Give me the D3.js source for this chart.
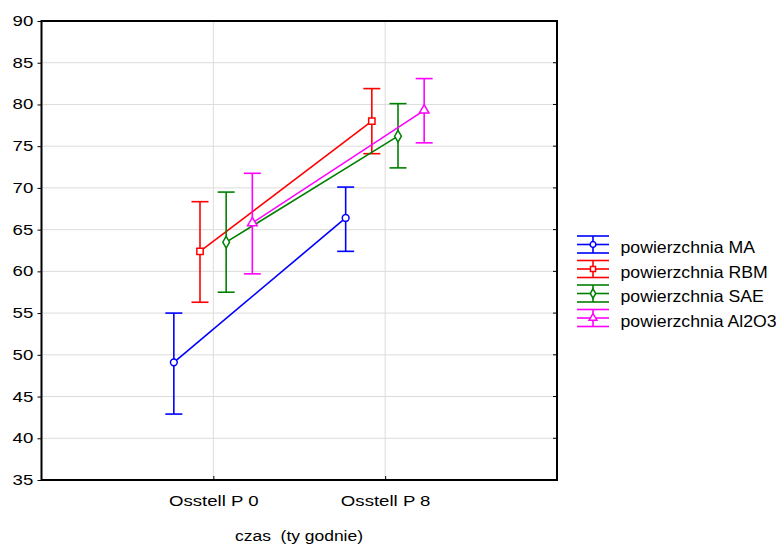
<!DOCTYPE html>
<html><head><meta charset="utf-8">
<script src="https://cdn.jsdelivr.net/npm/d3@7"></script>
<style>html,body{margin:0;padding:0;background:#fff;}svg{display:block;font-family:"Liberation Sans",Arial,sans-serif;}</style>
</head><body>
<script>
const categories = ["Osstell P 0", "Osstell P 8"];
const seriesNames = ["powierzchnia MA", "powierzchnia RBM", "powierzchnia SAE", "powierzchnia Al2O3"];
const seriesColors = ["#0000ff", "#ff0000", "#008000", "#ff00ff"];
const seriesSymbols = ["circle", "square", "diamond", "triangle"];
const meanMA = [49.1, 66.4];
const meanRBM = [62.4, 78.0];
const meanSAE = [63.5, 76.2];
const meanAl2O3 = [65.8, 79.3];
const lowMA = [42.9, 62.4], highMA = [55.0, 70.1];
const lowRBM = [56.3, 74.1], highRBM = [68.35, 81.9];
const lowSAE = [57.5, 72.4], highSAE = [69.5, 80.1];
const lowAl2O3 = [59.7, 75.4], highAl2O3 = [71.75, 83.1];
const yTicks = [35, 40, 45, 50, 55, 60, 65, 70, 75, 80, 85, 90];
const xTitle = "czas\u00a0 (ty godnie)";

const series = seriesNames.map((name, i) => ({
  name, color: seriesColors[i], symbol: seriesSymbols[i],
  mean: [meanMA, meanRBM, meanSAE, meanAl2O3][i],
  low: [lowMA, lowRBM, lowSAE, lowAl2O3][i],
  high: [highMA, highRBM, highSAE, highAl2O3][i]
}));

const W = 782, H = 545;
const L = 41.5, R = 557, T = 21, B = 480;
const svg = d3.select("body").append("svg").attr("width", W).attr("height", H);

const x = d3.scalePoint().domain(categories).range([L, R]).padding(1);
const off = d3.scalePoint().domain(seriesNames).range([-39.5, 39]);
const y = d3.scaleLinear().domain([35, 90]).range([B, T]);

function stretch(sel, factor) {
  sel.each(function() {
    const w = this.getComputedTextLength();
    d3.select(this).attr("textLength", w * factor).attr("lengthAdjust", "spacingAndGlyphs");
  });
}

// gridlines
svg.append("g").selectAll("line").data(yTicks.filter(t => t > 35 && t < 90)).join("line")
  .attr("x1", L).attr("x2", R).attr("y1", d => y(d)).attr("y2", d => y(d))
  .attr("stroke", "#dcdcdc").attr("stroke-width", 1);
svg.append("g").selectAll("line").data(categories).join("line")
  .attr("x1", d => x(d)).attr("x2", d => x(d)).attr("y1", T).attr("y2", B)
  .attr("stroke", "#dcdcdc").attr("stroke-width", 1);

// y axis
const yAxis = svg.append("g").attr("transform", `translate(${L},0)`)
  .call(d3.axisLeft(y).tickValues(yTicks).tickSize(4).tickPadding(4));
yAxis.select(".domain").remove();
yAxis.selectAll("line").attr("stroke", "#000");
yAxis.selectAll("text").attr("font-size", 15.5).attr("fill", "#000")
  .attr("font-family", "Liberation Sans, Arial, sans-serif")
  .attr("x", -8.2).attr("dy", null).attr("y", 4.5);
stretch(yAxis.selectAll("text"), 1.2);
// right inner ticks
svg.append("g").selectAll("line").data(yTicks).join("line")
  .attr("x1", R - 4).attr("x2", R).attr("y1", d => y(d)).attr("y2", d => y(d)).attr("stroke", "#000");

// x axis
const xAxis = svg.append("g").attr("transform", `translate(0,${B})`)
  .call(d3.axisBottom(x).tickSize(-4).tickPadding(12));
xAxis.select(".domain").remove();
xAxis.selectAll("line").attr("stroke", "#000");
xAxis.selectAll("text").attr("font-size", 15.5).attr("fill", "#000")
  .attr("font-family", "Liberation Sans, Arial, sans-serif")
  .attr("dy", null).attr("y", 26);
stretch(xAxis.selectAll("text"), 1.2);

// frame
svg.append("rect").attr("x", L).attr("y", T).attr("width", R - L).attr("height", B - T)
  .attr("fill", "none").attr("stroke", "#000").attr("stroke-width", 2);

svg.append("text").attr("x", 299).attr("y", 541).attr("text-anchor", "middle")
  .attr("font-size", 15.5).attr("textLength", 128).attr("lengthAdjust", "spacingAndGlyphs").text(xTitle);

function symbolPath(type, size) {
  const map = {circle: d3.symbolCircle, square: d3.symbolSquare, diamond: d3.symbolDiamond, triangle: d3.symbolTriangle};
  return d3.symbol().type(map[type]).size(size)();
}
const symSize = {circle: 36, square: 40, diamond: 40, triangle: 40};

const capW = 8.5;
series.forEach(s => {
  const g = svg.append("g");
  const px = c => x(c) + off(s.name);
  g.append("path").datum(categories.map((c, i) => [px(c), y(s.mean[i])]))
    .attr("d", d3.line()).attr("fill", "none").attr("stroke", s.color).attr("stroke-width", 1.6);
  categories.forEach((c, i) => {
    const cx = px(c);
    g.append("line").attr("x1", cx).attr("x2", cx).attr("y1", y(s.low[i])).attr("y2", y(s.high[i]))
      .attr("stroke", s.color).attr("stroke-width", 1.6);
    [s.low[i], s.high[i]].forEach(v => {
      g.append("line").attr("x1", cx - capW).attr("x2", cx + capW).attr("y1", y(v)).attr("y2", y(v))
        .attr("stroke", s.color).attr("stroke-width", 1.6);
    });
    g.append("path").attr("d", symbolPath(s.symbol, symSize[s.symbol]))
      .attr("transform", `translate(${cx},${y(s.mean[i])})`)
      .attr("fill", "#fff").attr("stroke", s.color).attr("stroke-width", 1.5);
  });
});

// legend
const lg = svg.append("g");
series.forEach((s, i) => {
  const cy = 244.5 + i * 24.5;
  const g = lg.append("g").attr("transform", `translate(593,${cy})`);
  [-8.5, 0, 8.5].forEach(dy => g.append("line").attr("x1", -16).attr("x2", 16).attr("y1", dy).attr("y2", dy)
    .attr("stroke", s.color).attr("stroke-width", 1.6));
  g.append("line").attr("x1", 0).attr("x2", 0).attr("y1", -8.5).attr("y2", 8.5).attr("stroke", s.color).attr("stroke-width", 1.6);
  g.append("path").attr("d", symbolPath(s.symbol, 26)).attr("fill", "#fff").attr("stroke", s.color).attr("stroke-width", 1.5);
  const t = lg.append("text").attr("x", 620.5).attr("y", cy + 8.5).attr("font-size", 16.5).text(s.name);
  stretch(t, 1.07);
});
</script>
</body></html>
